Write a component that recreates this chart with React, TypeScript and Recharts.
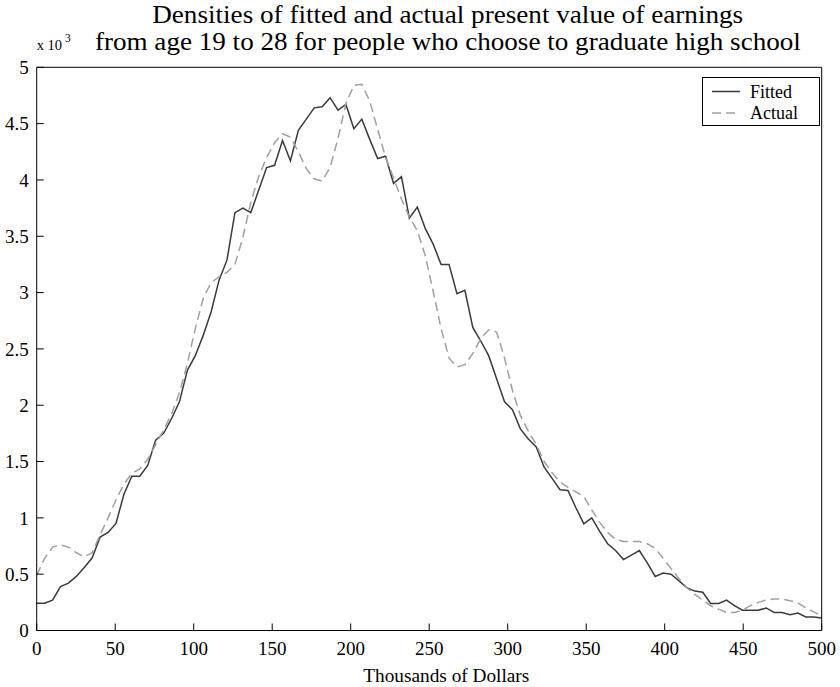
import React from 'react';
import { LineChart, Line, XAxis, YAxis, Legend } from 'recharts';

const xValues = [
  0, 5.05, 10.1, 15.15, 20.2, 25.25, 30.3, 35.35, 40.4, 45.45,
  50.51, 55.56, 60.61, 65.66, 70.71, 75.76, 80.81, 85.86, 90.91, 95.96,
  101.01, 106.06, 111.11, 116.16, 121.21, 126.26, 131.31, 136.36, 141.41, 146.46,
  151.52, 156.57, 161.62, 166.67, 171.72, 176.77, 181.82, 186.87, 191.92, 196.97,
  202.02, 207.07, 212.12, 217.17, 222.22, 227.27, 232.32, 237.37, 242.42, 247.47,
  252.53, 257.58, 262.63, 267.68, 272.73, 277.78, 282.83, 287.88, 292.93, 297.98,
  303.03, 308.08, 313.13, 318.18, 323.23, 328.28, 333.33, 338.38, 343.43, 348.48,
  353.54, 358.59, 363.64, 368.69, 373.74, 378.79, 383.84, 388.89, 393.94, 398.99,
  404.04, 409.09, 414.14, 419.19, 424.24, 429.29, 434.34, 439.39, 444.44, 449.49,
  454.55, 459.6, 464.65, 469.7, 474.75, 479.8, 484.85, 489.9, 494.95, 500,
];

const fittedValues = [
  0.243, 0.243, 0.27, 0.39, 0.42, 0.48, 0.56, 0.645, 0.83, 0.87,
  0.95, 1.21, 1.37, 1.37, 1.465, 1.69, 1.75, 1.88, 2.03, 2.31,
  2.44, 2.62, 2.83, 3.11, 3.29, 3.71, 3.75, 3.71, 3.91, 4.11,
  4.13, 4.35, 4.17, 4.44, 4.54, 4.64, 4.65, 4.73, 4.62, 4.67,
  4.455, 4.54, 4.36, 4.19, 4.21, 3.97, 4.03, 3.66, 3.76, 3.57,
  3.43, 3.25, 3.25, 2.99, 3.02, 2.69, 2.57, 2.44, 2.235, 2.03,
  1.96, 1.79, 1.7, 1.63, 1.45, 1.35, 1.25, 1.243, 1.09, 0.947,
  1.0, 0.88, 0.77, 0.71, 0.63, 0.67, 0.71, 0.6, 0.48, 0.51,
  0.5, 0.44, 0.38, 0.35, 0.34, 0.24, 0.24, 0.27, 0.22, 0.18,
  0.18, 0.18, 0.2, 0.16, 0.16, 0.14, 0.155, 0.12, 0.12, 0.11,
];

const actualValues = [
  0.49, 0.64, 0.74, 0.76, 0.74, 0.69, 0.655, 0.69, 0.85, 1.0,
  1.16, 1.3, 1.395, 1.435, 1.52, 1.65, 1.78, 1.92, 2.11, 2.37,
  2.68, 2.95, 3.09, 3.14, 3.18, 3.25, 3.49, 3.8, 4.03, 4.2,
  4.33, 4.41, 4.38, 4.25, 4.1, 4.01, 3.99, 4.11, 4.37, 4.68,
  4.84, 4.85, 4.7, 4.45, 4.2, 4.02, 3.83, 3.67, 3.55, 3.33,
  3.01, 2.68, 2.42, 2.34, 2.36, 2.46, 2.59, 2.67, 2.65, 2.42,
  2.13, 1.91, 1.77, 1.65, 1.5, 1.4, 1.32, 1.27, 1.23, 1.19,
  1.07, 0.96, 0.87, 0.81, 0.79, 0.79, 0.79, 0.77, 0.73, 0.64,
  0.55, 0.46, 0.38, 0.32, 0.27, 0.22, 0.19, 0.16, 0.16, 0.18,
  0.22, 0.25, 0.27, 0.28, 0.28, 0.265, 0.245, 0.2, 0.165, 0.13,
];

const xTicks = [0, 50, 100, 150, 200, 250, 300, 350, 400, 450, 500];
const yTicks = [0, 0.5, 1, 1.5, 2, 2.5, 3, 3.5, 4, 4.5, 5];
const seriesNames = ['Fitted', 'Actual'];
const titleLines = [
  'Densities of fitted and actual present value of earnings',
  'from age 19 to 28 for people who choose to graduate high school',
];
const scaleLabel = 'x 10';
const scaleExponent = '3';
const xAxisLabel = 'Thousands of Dollars';

const data = xValues.map((x, i) => ({ x, fitted: fittedValues[i], actual: actualValues[i] }));

const FONT = '"Liberation Serif", "Times New Roman", serif';
const FIT_COLOR = '#3a3a3a';
const ACT_COLOR = '#a0a0a0';
const ACT_DASH = '9 5';
const tickStyle = { fill: '#000', fontSize: 19, fontFamily: FONT };

const renderLegend = () => (
  <svg width={118} height={49} style={{ display: 'block' }}>
    <rect x={0.5} y={0.5} width={117} height={48} fill="#fff" stroke="#000" strokeWidth={1} />
    <line x1={10} x2={38} y1={14.5} y2={14.5} stroke={FIT_COLOR} strokeWidth={1.5} />
    <text x={48} y={20.5} fontSize={18} fontFamily={FONT} fill="#000">{seriesNames[0]}</text>
    <line x1={10} x2={38} y1={36} y2={36} stroke={ACT_COLOR} strokeWidth={1.5} strokeDasharray={ACT_DASH} />
    <text x={48} y={42} fontSize={18} fontFamily={FONT} fill="#000">{seriesNames[1]}</text>
  </svg>
);

export default function App() {
  return (
    <div style={{ position: 'absolute', left: 0, top: 0, width: 840, height: 687, background: '#fff', fontFamily: FONT }}>
      <LineChart width={840} height={687} data={data} margin={{ top: 66.3, right: 17.3, bottom: 0, left: 0 }}>
        <XAxis
          xAxisId="b"
          dataKey="x"
          type="number"
          domain={[0, 500]}
          ticks={xTicks}
          orientation="bottom"
          height={56.5}
          tickSize={-7}
          tickMargin={18}
          stroke="#000"
          tick={tickStyle}
          interval={0}
        />
        <XAxis
          xAxisId="t"
          dataKey="x"
          type="number"
          domain={[0, 500]}
          ticks={xTicks}
          orientation="top"
          height={1}
          tickSize={-7}
          stroke="#000"
          tick={false}
          interval={0}
        />
        <YAxis
          yAxisId="l"
          type="number"
          domain={[0, 5]}
          ticks={yTicks}
          orientation="left"
          width={36.7}
          tickSize={-7}
          tickMargin={15}
          stroke="#000"
          tick={tickStyle}
          interval={0}
        />
        <YAxis
          yAxisId="r"
          type="number"
          domain={[0, 5]}
          ticks={yTicks}
          orientation="right"
          width={1}
          tickSize={-7}
          stroke="#000"
          tick={false}
          interval={0}
        />
        <Legend
          layout="horizontal"
          align="center"
          verticalAlign="middle"
          content={renderLegend}
          wrapperStyle={{ position: 'absolute', left: 702, top: 77, width: 118, height: 49 }}
        />
        <Line
          xAxisId="b"
          yAxisId="l"
          type="linear"
          dataKey="fitted"
          name={seriesNames[0]}
          stroke={FIT_COLOR}
          strokeWidth={1.5}
          dot={false}
          isAnimationActive={false}
        />
        <Line
          xAxisId="b"
          yAxisId="l"
          type="linear"
          dataKey="actual"
          name={seriesNames[1]}
          stroke={ACT_COLOR}
          strokeWidth={1.5}
          strokeDasharray={ACT_DASH}
          dot={false}
          isAnimationActive={false}
        />
      </LineChart>
      <svg
        width={840}
        height={687}
        style={{ position: 'absolute', left: 0, top: 0, pointerEvents: 'none' }}
      >
        <text x={447.7} y={22.6} textAnchor="middle" fontSize={25} fontFamily={FONT} fill="#000" textLength={591} lengthAdjust="spacingAndGlyphs">
          {titleLines[0]}
        </text>
        <text x={447.9} y={50.4} textAnchor="middle" fontSize={25} fontFamily={FONT} fill="#000" textLength={706} lengthAdjust="spacingAndGlyphs">
          {titleLines[1]}
        </text>
        <text x={36.7} y={50} fontSize={14.5} fontFamily={FONT} fill="#000">{scaleLabel}</text>
        <text x={65} y={42} fontSize={11.5} fontFamily={FONT} fill="#000">{scaleExponent}</text>
        <text x={446.3} y={682} textAnchor="middle" fontSize={19.3} fontFamily={FONT} fill="#000">{xAxisLabel}</text>
      </svg>
    </div>
  );
}
